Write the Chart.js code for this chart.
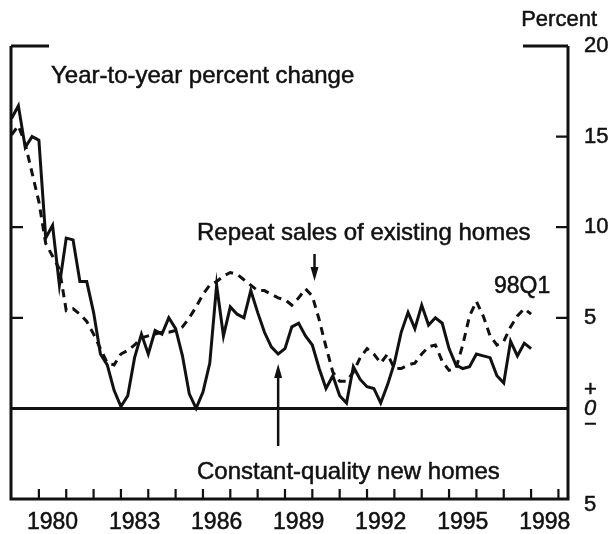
<!DOCTYPE html>
<html>
<head>
<meta charset="utf-8">
<script src="https://cdn.jsdelivr.net/npm/chart.js@4"></script>
<style>
  html, body { margin: 0; padding: 0; background: #fff; }
  #wrap { width: 612px; height: 534px; }
</style>
</head>
<body>
<div id="wrap"><canvas id="chart" width="612" height="534"></canvas></div>
<script>
// quarterly, 1979Q1 .. 1998Q1
const startYear = 1979;
const newHomes = [
  16.0, 16.7, 14.4, 15.0, 14.8, 9.4, 10.1, 6.8, 9.4, 9.3, 7.0, 7.0,
  5.3, 3.0, 2.4, 1.0, 0.1, 0.7, 2.8, 4.1, 3.0, 4.3, 4.1, 5.0,
  4.4, 2.9, 0.8, 0.0, 0.9, 2.5, 6.8, 4.0, 5.6, 5.2, 5.0, 6.5,
  5.3, 4.2, 3.4, 3.0, 3.3, 4.5, 4.7, 4.0, 3.5, 2.2, 1.1, 1.8,
  0.7, 0.3, 2.3, 1.6, 1.2, 1.1, 0.3, 1.3, 2.5, 4.2, 5.3, 4.4,
  5.7, 4.6, 5.0, 4.7, 3.3, 2.4, 2.2, 2.3, 3.0, 2.9, 2.8, 1.8,
  1.4, 3.7, 2.9, 3.6, 3.3
];
const repeatSales = [
  15.1, 15.6, 14.6, 13.0, 11.4, 9.1, 8.4, 7.7, 5.4, 5.5, 5.2, 4.8,
  4.1, 3.3, 2.5, 2.4, 3.0, 3.2, 3.5, 3.9, 4.0, 4.1, 4.2, 4.2,
  4.3, 4.5, 5.0, 5.6, 6.3, 6.8, 7.0, 7.3, 7.5, 7.4, 7.1, 6.8,
  6.5, 6.5, 6.3, 6.1, 6.0, 5.7, 6.1, 6.6, 6.2, 4.9, 3.4, 2.0,
  1.5, 1.5, 2.0, 2.8, 3.3, 3.0, 2.5, 3.0, 2.2, 2.2, 2.4, 2.5,
  3.0, 3.4, 3.5, 2.6, 2.1, 2.2, 3.5, 5.1, 5.9, 5.1, 4.0, 3.5,
  3.7, 4.5, 5.1, 5.5, 5.2
];
const yTickValues = [20, 15, 10, 5];
const leftTickValues = [10, 5];
const innerRightTicks = [15, 10, 5];
const yearLabels = [1980, 1983, 1986, 1989, 1992, 1995, 1998];
const yearTicks = [1980, 1981, 1982, 1983, 1984, 1985, 1986, 1987, 1988, 1989,
                   1990, 1991, 1992, 1993, 1994, 1995, 1996, 1997, 1998, 1999];

const pts = arr => arr.map((v, i) => ({ x: startYear + i / 4, y: v }));
const FONT = '"Liberation Sans", Arial, Helvetica, sans-serif';
const INK = '#111';

// scanned print looks a bit heavier than plain canvas text
function inkText(ctx, s, px, py) {
  ctx.fillText(s, px, py);
  ctx.lineWidth = 0.5;
  ctx.strokeText(s, px, py);
}

// frame, ticks, labels and notes
const frame = {
  id: 'frame',
  beforeDatasetsDraw(chart) {
    const { ctx, chartArea: a, scales: { x, y } } = chart;
    ctx.save();
    ctx.strokeStyle = INK;
    ctx.lineCap = 'butt';
    ctx.lineWidth = 3;
    ctx.beginPath();
    ctx.moveTo(a.left, a.top); ctx.lineTo(a.left, a.bottom);
    ctx.lineTo(a.right, a.bottom); ctx.lineTo(a.right, a.top);
    // top edge only shown at the corners
    ctx.moveTo(a.left, a.top); ctx.lineTo(a.left + 38, a.top);
    ctx.moveTo(a.right - 45, a.top); ctx.lineTo(a.right, a.top);
    ctx.stroke();

    ctx.beginPath();
    ctx.moveTo(a.left, y.getPixelForValue(0));
    ctx.lineTo(a.right, y.getPixelForValue(0));
    ctx.stroke();

    ctx.lineWidth = 2.2;
    ctx.beginPath();
    leftTickValues.forEach(v => {
      const py = y.getPixelForValue(v);
      ctx.moveTo(a.left, py); ctx.lineTo(a.left + 12, py);
    });
    innerRightTicks.forEach(v => {
      const py = y.getPixelForValue(v);
      ctx.moveTo(a.right, py); ctx.lineTo(a.right - 12, py);
    });
    yearTicks.forEach(yr => {
      const px = x.getPixelForValue(yr);
      ctx.moveTo(px, a.bottom); ctx.lineTo(px, a.bottom - 10);
    });
    ctx.stroke();
    ctx.restore();
  },
  afterDatasetsDraw(chart) {
    const { ctx, chartArea: a, scales: { x, y } } = chart;
    ctx.save();
    ctx.fillStyle = INK;
    ctx.strokeStyle = INK;

    // right axis labels
    ctx.textBaseline = 'middle';
    ctx.font = '22px ' + FONT;
    ctx.textAlign = 'left';
    const lx = a.right + 16;
    yTickValues.forEach(v => inkText(ctx, String(v), lx, y.getPixelForValue(v)));
    inkText(ctx, '5', lx, y.getPixelForValue(-5) + 6);
    inkText(ctx, '+', lx, y.getPixelForValue(0) - 18);
    ctx.font = 'italic 22px ' + FONT;
    inkText(ctx, '0', lx, y.getPixelForValue(0));
    ctx.font = '22px ' + FONT;
    inkText(ctx, '\u2212', lx, y.getPixelForValue(0) + 17);

    ctx.textBaseline = 'alphabetic';
    ctx.textAlign = 'right';
    inkText(ctx, 'Percent', 597, 26);

    // year labels sit in the middle of each year
    ctx.font = '23px ' + FONT;
    ctx.textAlign = 'center';
    yearLabels.forEach(yr => inkText(ctx, String(yr), x.getPixelForValue(yr + 0.5), 529));

    // notes
    ctx.font = '24px ' + FONT;
    ctx.textAlign = 'left';
    inkText(ctx, 'Year-to-year percent change', 51, 83);
    inkText(ctx, 'Repeat sales of existing homes', 197, 240);
    inkText(ctx, 'Constant-quality new homes', 197, 479);
    ctx.font = '23px ' + FONT;
    inkText(ctx, '98Q1', 494, 293);

    const arrow = (px, y0, y1) => {
      const dir = y1 > y0 ? 1 : -1;
      ctx.lineWidth = 2.5;
      ctx.beginPath();
      ctx.moveTo(px, y0); ctx.lineTo(px, y1 - dir * 10);
      ctx.stroke();
      ctx.beginPath();
      ctx.moveTo(px, y1);
      ctx.lineTo(px - 4, y1 - dir * 14);
      ctx.lineTo(px + 4, y1 - dir * 14);
      ctx.closePath();
      ctx.fill();
    };
    arrow(x.getPixelForValue(1990.08), 254, 281);
    arrow(x.getPixelForValue(1988.75), 446, 364);
    ctx.restore();
  }
};

new Chart(document.getElementById('chart'), {
  type: 'line',
  data: {
    datasets: [
      {
        label: 'Constant-quality new homes',
        data: pts(newHomes),
        borderColor: INK,
        borderWidth: 3,
        pointRadius: 0,
        tension: 0
      },
      {
        label: 'Repeat sales of existing homes',
        data: pts(repeatSales),
        borderColor: INK,
        borderWidth: 3,
        borderDash: [8, 6],
        pointRadius: 0,
        tension: 0
      }
    ]
  },
  options: {
    responsive: false,
    animation: false,
    layout: { padding: { left: 11, right: 44, top: 46, bottom: 35 } },
    plugins: { legend: { display: false }, tooltip: { enabled: false } },
    scales: {
      x: { type: 'linear', min: 1978.98, max: 1999.35, display: false },
      y: { type: 'linear', min: -5, max: 20, display: false }
    }
  },
  plugins: [frame]
});
</script>
</body>
</html>
